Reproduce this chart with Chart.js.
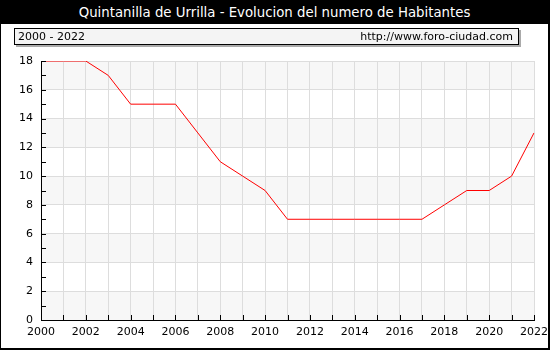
<!DOCTYPE html>
<html>
<head>
<meta charset="utf-8">
<script src="https://cdn.jsdelivr.net/npm/chart.js@4/dist/chart.umd.min.js"></script>
<style>
    body { margin: 0; background: #fff; }
    #wrap {
        position: relative;
        width: 550px;
        height: 350px;
        box-sizing: border-box;
        border-left: 1px solid #000;
        border-top: 1px solid #000;
        border-right: 2px solid #000;
        border-bottom: 2px solid #000;
        overflow: hidden;
        font-family: "DejaVu Sans", sans-serif;
    }
    #title {
        position: absolute;
        left: 0; top: 0;
        width: 100%;
        height: 23px;
        background: #000;
        color: #fff;
        font-size: 13.3px;
        line-height: 23px;
        text-align: center;
    }
    #infoBox {
        position: absolute;
        left: 13px; top: 27px;
        width: 503px; height: 15px;
        background: #f4f4f4;
        border: 1px solid #000;
        box-shadow: 2px 2px 0 #aaa;
        font-size: 11px;
        line-height: 15px;
    }
    #infoBox .left { position: absolute; left: 3px; }
    #infoBox .right { position: absolute; right: 5px; }
    #chart { position: absolute; left: -1px; top: -1px; }
</style>
</head>
<body>
<div id="wrap">
    <canvas id="chart" width="550" height="350"></canvas>
    <div id="title">Quintanilla de Urrilla - Evolucion del numero de Habitantes</div>
    <div id="infoBox"><span class="left">2000 - 2022</span><span class="right">http://www.foro-ciudad.com</span></div>
</div>
<script>
// Population by year
const years = ['2000', '2001', '2002', '2003', '2004', '2005', '2006', '2007', '2008', '2009', '2010', '2011',
    '2012', '2013', '2014', '2015', '2016', '2017', '2018', '2019', '2020', '2021', '2022'];
const habitantes = [18, 18, 18, 17, 15, 15, 15, 13, 11, 10, 9, 7, 7, 7, 7, 7, 7, 7, 8, 9, 9, 10, 13];
const yTicks = [0, 2, 4, 6, 8, 10, 12, 14, 16, 18];

// Gray bands every other step, plus inner tick marks on both axes
const decorPlugin = {
    id: 'decor',
    beforeDraw(chart) {
        const { ctx, chartArea: a, scales: { x, y } } = chart;
        ctx.save();
        ctx.fillStyle = '#f7f7f7';
        for (let v = 0; v < 18; v += 4) {
            const top = y.getPixelForValue(v + 2);
            const bottom = y.getPixelForValue(v);
            ctx.fillRect(a.left, top, a.right - a.left, bottom - top);
        }
        ctx.restore();
    },
    afterDatasetsDraw(chart) {
        const { ctx, chartArea: a, scales: { x, y } } = chart;
        ctx.save();
        ctx.strokeStyle = '#000';
        ctx.lineWidth = 1;
        ctx.beginPath();
        for (let v = 0; v <= 18; v++) {
            const py = Math.round(y.getPixelForValue(v)) + 0.5;
            ctx.moveTo(a.left, py);
            ctx.lineTo(a.left + 5, py);
        }
        years.forEach((yr, i) => {
            const px = Math.round(x.getPixelForValue(i)) + 0.5;
            ctx.moveTo(px, a.bottom);
            ctx.lineTo(px, a.bottom - 5);
        });
        ctx.stroke();
        ctx.restore();
    }
};

const ctx = document.getElementById('chart').getContext('2d');
new Chart(ctx, {
    type: 'line',
    data: {
        labels: years,
        datasets: [{
            data: habitantes,
            borderColor: '#ff0000',
            borderWidth: 1,
            pointRadius: 0,
            tension: 0,
            fill: false
        }]
    },
    options: {
        responsive: false,
        animation: false,
        layout: { padding: { top: 61, right: 16, left: 0, bottom: 0 } },
        plugins: {
            legend: { display: false },
            tooltip: { enabled: false }
        },
        scales: {
            x: {
                offset: false,
                grid: { color: '#dddddd', drawTicks: false },
                border: { color: '#000', width: 1 },
                ticks: {
                    color: '#000',
                    font: { family: 'DejaVu Sans', size: 11 },
                    padding: 6,
                    maxRotation: 0,
                    autoSkip: false,
                    callback: (val, i) => (i % 2 === 0 ? years[i] : '')
                },
                afterFit(scale) {
                    scale.height = 30;
                    scale.paddingLeft = 0;
                    scale.paddingRight = 0;
                }
            },
            y: {
                min: 0,
                max: 18,
                grid: { color: '#dddddd', drawTicks: false },
                border: { color: '#000', width: 1 },
                ticks: {
                    stepSize: 2,
                    color: '#000',
                    font: { family: 'DejaVu Sans', size: 11 },
                    padding: 8,
                    callback: v => (yTicks.includes(v) ? v : '')
                },
                afterFit(scale) {
                    scale.width = 41;
                    scale.paddingTop = 0;
                    scale.paddingBottom = 0;
                }
            }
        }
    },
    plugins: [decorPlugin]
});
</script>
</body>
</html>
